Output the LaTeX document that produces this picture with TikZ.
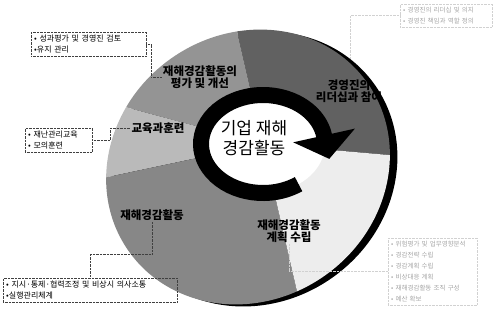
\documentclass[tikz,border=0pt]{standalone}
\usepackage{fontspec}
\setmainfont{Noto Sans CJK KR}
\usetikzlibrary{arrows.meta}

\begin{document}
\begin{tikzpicture}[x=1pt,y=1pt,
    seglab/.style={font=\bfseries\fontsize{11.5}{12.5}\selectfont, align=center, inner sep=1pt},
    infobox/.style={draw=black!75, densely dotted, anchor=north west, align=left,
        font=\fontsize{8}{10.5}\selectfont, inner sep=3pt},
    faintbox/.style={infobox, draw=black!18, text=black!35, font=\fontsize{6.5}{11}\selectfont},
    conn/.style={densely dotted, black!75},
    faintconn/.style={densely dotted, black!18}]

        \useasboundingbox (0,0) rectangle (494,322);

        %===========================
        % Disc
        %===========================

        \coordinate (disc) at (248,155);
        \coordinate (hub) at (263,178);

        % faint connector of the top right box, under the disc
        \node (boxTR) at (400,318) [faintbox, text width=86pt] {• 경영진의 리더십 및 의지\\• 경영진 책임과 역할 정의};
        \draw[faintconn] (boxTR.west) -| (350,250);

        % shadow rim
        \fill[black, rotate around={35:(disc)}] ([shift={(5,-6)}]disc) ellipse [x radius=146pt, y radius=133pt];

        % segments
        \begin{scope}
            \clip[rotate around={35:(disc)}] (disc) ellipse [x radius=146pt, y radius=133pt];
            \fill[black!62] (hub) -- ++(-5:320) arc[start angle=-5, end angle=103, radius=320pt] -- cycle;
            \fill[black!42] (hub) -- ++(103:320) arc[start angle=103, end angle=165, radius=320pt] -- cycle;
            \fill[black!27] (hub) -- ++(165:320) arc[start angle=165, end angle=192, radius=320pt] -- cycle;
            \fill[black!47] (hub) -- ++(192:320) arc[start angle=192, end angle=283, radius=320pt] -- cycle;
            \fill[black!7] (hub) -- ++(283:320) arc[start angle=283, end angle=355, radius=320pt] -- cycle;
        \end{scope}

        % inner face and cycle arrow
        \fill[white] (hub) ellipse [x radius=62pt, y radius=49pt];
        \draw[line width=16pt, -{Triangle[width=62pt,length=24pt]}]
            ([shift={(-55:62 and 49)}]hub) arc[start angle=-55, end angle=-350, x radius=62pt, y radius=49pt]
            -- ++(5.2,-23.4);

        %===========================
        % Labels
        %===========================

        \node (core) at (254,184) [align=center, font=\fontsize{17}{20}\selectfont] {기업 재해\\경감활동};

        \node (labTL) at (200,245) [seglab] {재해경감활동의\\평가 및 개선};
        \node (labTR) at (349,231) [seglab] {경영진의\\리더십과 참여};
        \node (labL) at (158,194) [seglab] {교육과훈련};
        \node (labBL) at (152,107) [seglab] {재해경감활동};
        \node (labBR) at (289,91) [seglab] {재해경감활동\\계획 수립};

        %===========================
        % Boxes
        %===========================

        \node (boxTL) at (31,290) [infobox, text width=109pt] {• 성과평가 및 경영진 검토\\•유지 관리};
        \draw[conn] (boxTL.east) -- ++(5,0) |- (labTL.west);

        \node (boxL) at (25,194) [infobox, text width=61pt] {• 재난관리교육\\• 모의훈련};
        \draw[conn] (boxL.east) -- ++(18,0) |- (labL.west);

        \node (boxBL) at (3,44) [infobox, text width=168pt] {• 지시·통제·협력조정 및 비상시 의사소통\\•실행관리체계};
        \draw[conn] (boxBL.north) -- ++(0,24) -| (labBL.south);

        % Right Side
        \node (boxBR) at (388,84) [faintbox, text width=83pt] {• 위험평가 및 업무영향분석\\• 경감전략 수립\\• 경감계획 수립\\• 비상대응 계획\\• 재해경감활동 조직 구성\\• 예산 확보};
        \draw[faintconn] (labBR.south) |- (boxBR.west);

\end{tikzpicture}
\end{document}
